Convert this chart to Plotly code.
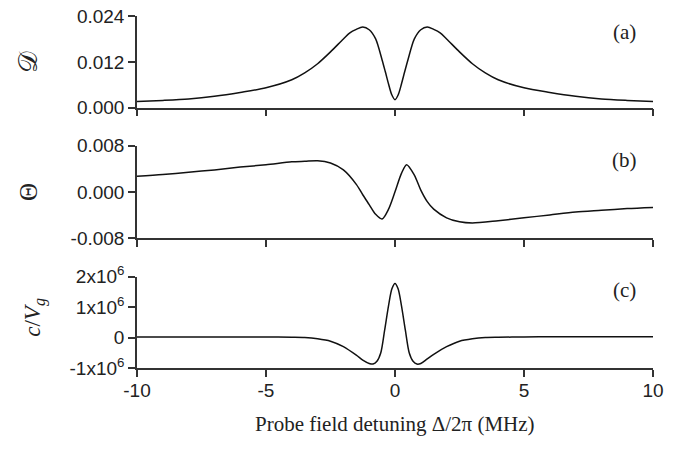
import plotly.graph_objects as go
from plotly.subplots import make_subplots

# detuning (MHz) and values
det_a = [-10, -9, -8, -7, -6, -5, -4, -3.5, -3, -2.5, -2, -1.75, -1.5, -1.25, -1.0, -0.75,
         -0.5, -0.375, -0.25, -0.125, 0, 0.125, 0.25, 0.375, 0.5, 0.75, 1.0, 1.25, 1.5,
         1.75, 2, 2.5, 3, 3.5, 4, 5, 6, 7, 8, 9, 10]
absorb = [0.0016, 0.0019, 0.0023, 0.0030, 0.0040, 0.0052, 0.0073, 0.0091, 0.0115, 0.0146,
          0.0180, 0.0196, 0.0205, 0.0211, 0.0204, 0.0180, 0.0125, 0.0094, 0.0062, 0.0034,
          0.0021, 0.0034, 0.0062, 0.0094, 0.0125, 0.0180, 0.0204, 0.0211, 0.0205, 0.0196,
          0.0180, 0.0146, 0.0115, 0.0091, 0.0073, 0.0052, 0.0040, 0.0030, 0.0023, 0.0019,
          0.0016]

det_b = [-10, -9, -8, -7, -6, -5, -4, -3.5, -3, -2.5, -2, -1.5, -1.25, -1, -0.75, -0.5,
         -0.25, 0, 0.25, 0.45, 0.75, 1.0, 1.25, 1.5, 2, 2.5, 3, 4, 5, 6, 7, 8, 9, 10]
disper = [0.0027, 0.0030, 0.0034, 0.0038, 0.0043, 0.0047, 0.0052, 0.0053, 0.0054, 0.0050,
          0.0038, 0.0013, -0.0005, -0.0022, -0.0039, -0.0047, -0.0030, 0.0000, 0.0032,
          0.0047, 0.0029, 0.0003, -0.0017, -0.0030, -0.0045, -0.0052, -0.0054, -0.0050,
          -0.0045, -0.0040, -0.0035, -0.0032, -0.0029, -0.0027]

det_c = [-10, -8, -6, -5, -4, -3.5, -3, -2.5, -2, -1.5, -1.25, -1.0, -0.85, -0.7, -0.55,
         -0.4, -0.25, -0.12, 0, 0.12, 0.25, 0.4, 0.55, 0.7, 0.85, 1.0, 1.25, 1.5, 2, 2.5,
         3, 3.5, 4, 5, 6, 8, 10]
# group index c/Vg in units of 10^6
group = [0.02, 0.02, 0.02, 0.02, 0.01, 0.0, -0.04, -0.12, -0.30, -0.58, -0.74, -0.85,
         -0.87, -0.78, -0.50, 0.25, 1.05, 1.60, 1.78, 1.60, 1.05, 0.25, -0.50, -0.78,
         -0.87, -0.85, -0.70, -0.55, -0.30, -0.12, -0.04, 0.0, 0.01, 0.02, 0.03, 0.03, 0.03]

xticks = [-10, -5, 0, 5, 10]
xticktext = ["-10", "-5", "0", "5", "10"]
ticks_a = [0.000, 0.012, 0.024]
ticks_b = [-0.008, 0.000, 0.008]
ticks_c = [-1, 0, 1, 2]
ticktext_c = ["-1x10<sup>6</sup>", "0", "1x10<sup>6</sup>", "2x10<sup>6</sup>"]

fig = make_subplots(rows=3, cols=1)

line = dict(color="#111", width=1.5, shape="spline", smoothing=0.8)
fig.add_trace(go.Scatter(x=det_a, y=absorb, mode="lines", line=line), row=1, col=1)
fig.add_trace(go.Scatter(x=det_b, y=disper, mode="lines", line=line), row=2, col=1)
fig.add_trace(go.Scatter(x=det_c, y=group, mode="lines", line=line), row=3, col=1)

tickfont = dict(family="Liberation Sans, Arial", size=19, color="#222")
axis = dict(showline=True, linecolor="#333", linewidth=1.5, ticks="outside", ticklen=7,
            tickwidth=1.5, tickcolor="#333", showgrid=False, zeroline=False,
            tickfont=tickfont, automargin=False, ticklabeloverflow="allow")

for r in (1, 2, 3):
    fig.update_xaxes(axis, range=[-10, 10], tickvals=xticks, ticktext=xticktext,
                     showticklabels=(r == 3), ticklabelstandoff=-3, row=r, col=1)

fig.update_yaxes(axis, range=[0, 0.024], tickvals=ticks_a,
                 ticktext=["%.3f" % v for v in ticks_a], domain=[0.7395, 1.0], row=1, col=1)
fig.update_yaxes(axis, range=[-0.008, 0.008], tickvals=ticks_b,
                 ticktext=["%.3f" % v for v in ticks_b], domain=[0.3693, 0.6315], row=2, col=1)
fig.update_yaxes(axis, range=[-1, 2], tickvals=ticks_c, ticktext=ticktext_c,
                 domain=[0.0, 0.2594], row=3, col=1)

serif = "Liberation Serif, Times New Roman"
notes = [
    dict(x=0.9457, y=0.955, text="(a)", size=21),
    dict(x=0.9457, y=0.591, text="(b)", size=21),
    dict(x=0.9457, y=0.2216, text="(c)", size=21),
    dict(x=-0.211, y=0.869, text="𝒟", textangle=-90, size=27),
    dict(x=-0.211, y=0.5, text="Θ", textangle=-90, size=25),
    dict(x=-0.198, y=0.145, text="<i>c</i>/<i>V</i><sub><i>g</i></sub>", textangle=-90,
         size=23),
    dict(x=0.5, y=-0.16, text="Probe field detuning Δ/2π (MHz)", size=21),
]
for n in notes:
    size = n.pop("size")
    fig.add_annotation(xref="paper", yref="paper", showarrow=False,
                       xanchor="center", yanchor="middle",
                       font=dict(family=serif, size=size, color="#222"), **n)

fig.update_layout(width=684, height=450, showlegend=False,
                  margin=dict(l=129, r=39, t=8, b=90),
                  plot_bgcolor="white", paper_bgcolor="white")

fig.write_html("out.html")
